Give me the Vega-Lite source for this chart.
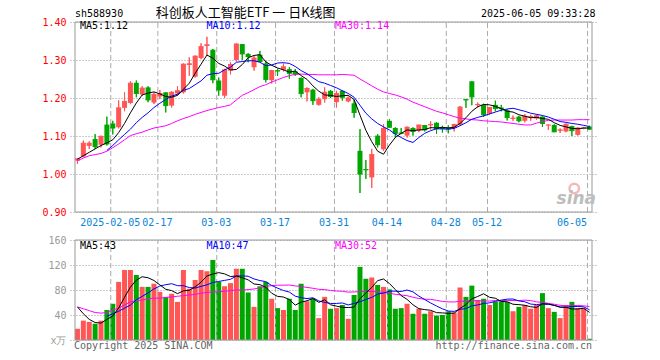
{
"$schema":"https://vega.github.io/schema/vega-lite/v6.json",
"width":527,"height":318,
"autosize":{"type":"none"},
"padding":{"left":70,"top":22,"right":63,"bottom":20},
"background":"white",
"config":{"view":{"stroke":null},"font":"DejaVu Sans Mono"},
"datasets":{
"k":[
{"i":0,"d":"01-20","o":1.035,"h":1.041,"l":1.027,"c":1.040,"v":18,"m5":1.039,"m10":null,"m30":1.035,"vm5":53,"vm10":null,"vm30":53},
{"i":1,"d":"01-21","o":1.046,"h":1.088,"l":1.044,"c":1.081,"v":31,"m5":1.048,"m10":null,"m30":1.042,"vm5":42,"vm10":null,"vm30":50},
{"i":2,"d":"01-22","o":1.074,"h":1.086,"l":1.066,"c":1.081,"v":29,"m5":1.057,"m10":null,"m30":1.048,"vm5":33,"vm10":null,"vm30":47},
{"i":3,"d":"01-23","o":1.092,"h":1.105,"l":1.066,"c":1.072,"v":26,"m5":1.066,"m10":null,"m30":1.051,"vm5":28,"vm10":null,"vm30":44},
{"i":4,"d":"01-24","o":1.077,"h":1.101,"l":1.070,"c":1.099,"v":31,"m5":1.075,"m10":null,"m30":1.054,"vm5":27,"vm10":null,"vm30":43},
{"i":5,"d":"01-27","o":1.130,"h":1.151,"l":1.075,"c":1.079,"v":48,"m5":1.082,"m10":1.062,"m30":1.060,"vm5":33,"vm10":38,"vm30":44},
{"i":6,"d":"02-05","o":1.133,"h":1.140,"l":1.104,"c":1.121,"v":58,"m5":1.090,"m10":1.075,"m30":1.069,"vm5":38.4,"vm10":42,"vm30":48},
{"i":7,"d":"02-06","o":1.123,"h":1.194,"l":1.120,"c":1.174,"v":93,"m5":1.109,"m10":1.090,"m30":1.079,"vm5":51.2,"vm10":46,"vm30":51},
{"i":8,"d":"02-07","o":1.174,"h":1.215,"l":1.165,"c":1.191,"v":112,"m5":1.133,"m10":1.104,"m30":1.090,"vm5":68.4,"vm10":51,"vm30":56},
{"i":9,"d":"02-10","o":1.187,"h":1.244,"l":1.184,"c":1.239,"v":112,"m5":1.161,"m10":1.118,"m30":1.101,"vm5":84.6,"vm10":55.8,"vm30":61},
{"i":10,"d":"02-11","o":1.240,"h":1.246,"l":1.202,"c":1.212,"v":104,"m5":1.187,"m10":1.135,"m30":1.106,"vm5":95.8,"vm10":64.4,"vm30":63},
{"i":11,"d":"02-12","o":1.209,"h":1.231,"l":1.206,"c":1.226,"v":85,"m5":1.208,"m10":1.149,"m30":1.110,"vm5":101.2,"vm10":69.8,"vm30":64},
{"i":12,"d":"02-13","o":1.228,"h":1.231,"l":1.189,"c":1.195,"v":85,"m5":1.213,"m10":1.161,"m30":1.116,"vm5":99.6,"vm10":75.4,"vm30":66},
{"i":13,"d":"02-14","o":1.188,"h":1.215,"l":1.184,"c":1.209,"v":90,"m5":1.216,"m10":1.175,"m30":1.121,"vm5":95.2,"vm10":81.8,"vm30":67},
{"i":14,"d":"02-17","o":1.204,"h":1.221,"l":1.197,"c":1.212,"v":77,"m5":1.211,"m10":1.186,"m30":1.124,"vm5":88.2,"vm10":86.4,"vm30":67},
{"i":15,"d":"02-18","o":1.215,"h":1.215,"l":1.162,"c":1.180,"v":69,"m5":1.204,"m10":1.196,"m30":1.127,"vm5":81.2,"vm10":88.5,"vm30":68},
{"i":16,"d":"02-19","o":1.180,"h":1.218,"l":1.175,"c":1.215,"v":74,"m5":1.202,"m10":1.205,"m30":1.133,"vm5":79,"vm10":90.1,"vm30":69},
{"i":17,"d":"02-20","o":1.212,"h":1.231,"l":1.206,"c":1.219,"v":61,"m5":1.207,"m10":1.210,"m30":1.140,"vm5":74.2,"vm10":86.9,"vm30":70},
{"i":18,"d":"02-21","o":1.215,"h":1.291,"l":1.212,"c":1.289,"v":112,"m5":1.223,"m10":1.220,"m30":1.146,"vm5":78.6,"vm10":86.9,"vm30":71},
{"i":19,"d":"02-24","o":1.287,"h":1.307,"l":1.258,"c":1.290,"v":82,"m5":1.239,"m10":1.225,"m30":1.151,"vm5":79.6,"vm10":83.9,"vm30":72},
{"i":20,"d":"02-25","o":1.256,"h":1.312,"l":1.254,"c":1.310,"v":96,"m5":1.265,"m10":1.235,"m30":1.157,"vm5":85,"vm10":83.1,"vm30":73},
{"i":21,"d":"02-26","o":1.305,"h":1.344,"l":1.302,"c":1.335,"v":112,"m5":1.289,"m10":1.245,"m30":1.162,"vm5":92.6,"vm10":85.8,"vm30":75},
{"i":22,"d":"02-27","o":1.337,"h":1.361,"l":1.311,"c":1.340,"v":110,"m5":1.313,"m10":1.260,"m30":1.167,"vm5":102.4,"vm10":88.3,"vm30":76},
{"i":23,"d":"02-28","o":1.327,"h":1.329,"l":1.239,"c":1.248,"v":128,"m5":1.305,"m10":1.264,"m30":1.171,"vm5":105.6,"vm10":92.1,"vm30":77},
{"i":24,"d":"03-03","o":1.246,"h":1.254,"l":1.206,"c":1.221,"v":93,"m5":1.291,"m10":1.265,"m30":1.175,"vm5":107.8,"vm10":93.7,"vm30":77},
{"i":25,"d":"03-04","o":1.206,"h":1.277,"l":1.200,"c":1.274,"v":86,"m5":1.284,"m10":1.274,"m30":1.178,"vm5":105.8,"vm10":95.4,"vm30":78},
{"i":26,"d":"03-05","o":1.272,"h":1.294,"l":1.262,"c":1.288,"v":91,"m5":1.274,"m10":1.281,"m30":1.182,"vm5":101.6,"vm10":97.1,"vm30":79},
{"i":27,"d":"03-06","o":1.300,"h":1.344,"l":1.296,"c":1.342,"v":114,"m5":1.275,"m10":1.294,"m30":1.195,"vm5":102.4,"vm10":102.4,"vm30":80},
{"i":28,"d":"03-07","o":1.342,"h":1.342,"l":1.300,"c":1.316,"v":114,"m5":1.288,"m10":1.296,"m30":1.207,"vm5":99.6,"vm10":102.6,"vm30":80},
{"i":29,"d":"03-10","o":1.316,"h":1.318,"l":1.294,"c":1.309,"v":76,"m5":1.306,"m10":1.298,"m30":1.214,"vm5":96.2,"vm10":102,"vm30":80.6},
{"i":30,"d":"03-11","o":1.281,"h":1.311,"l":1.272,"c":1.305,"v":53,"m5":1.312,"m10":1.298,"m30":1.222,"vm5":89.6,"vm10":97.7,"vm30":81.7},
{"i":31,"d":"03-12","o":1.314,"h":1.324,"l":1.294,"c":1.296,"v":86,"m5":1.314,"m10":1.294,"m30":1.230,"vm5":88.6,"vm10":95.1,"vm30":83.6},
{"i":32,"d":"03-13","o":1.291,"h":1.298,"l":1.241,"c":1.249,"v":93,"m5":1.295,"m10":1.285,"m30":1.235,"vm5":84.4,"vm10":93.4,"vm30":85.7},
{"i":33,"d":"03-14","o":1.247,"h":1.274,"l":1.238,"c":1.272,"v":66,"m5":1.286,"m10":1.287,"m30":1.242,"vm5":74.8,"vm10":87.2,"vm30":87},
{"i":34,"d":"03-17","o":1.273,"h":1.277,"l":1.258,"c":1.271,"v":51,"m5":1.279,"m10":1.292,"m30":1.248,"vm5":69.8,"vm10":83,"vm30":87.7},
{"i":35,"d":"03-18","o":1.274,"h":1.291,"l":1.270,"c":1.282,"v":48,"m5":1.274,"m10":1.293,"m30":1.254,"vm5":68.8,"vm10":79.2,"vm30":87.7},
{"i":36,"d":"03-19","o":1.276,"h":1.281,"l":1.251,"c":1.265,"v":66,"m5":1.268,"m10":1.291,"m30":1.259,"vm5":64.8,"vm10":76.7,"vm30":88},
{"i":37,"d":"03-20","o":1.270,"h":1.276,"l":1.258,"c":1.263,"v":48,"m5":1.271,"m10":1.283,"m30":1.262,"vm5":55.8,"vm10":70.1,"vm30":86.5},
{"i":38,"d":"03-21","o":1.253,"h":1.254,"l":1.202,"c":1.212,"v":90,"m5":1.259,"m10":1.272,"m30":1.263,"vm5":60.6,"vm10":67.7,"vm30":85.7},
{"i":39,"d":"03-24","o":1.215,"h":1.228,"l":1.191,"c":1.225,"v":62,"m5":1.249,"m10":1.264,"m30":1.262,"vm5":62.8,"vm10":66.3,"vm30":84.1},
{"i":40,"d":"03-25","o":1.222,"h":1.224,"l":1.182,"c":1.193,"v":66,"m5":1.232,"m10":1.253,"m30":1.262,"vm5":66.4,"vm10":67.6,"vm30":82.8},
{"i":41,"d":"03-26","o":1.182,"h":1.202,"l":1.180,"c":1.196,"v":35,"m5":1.218,"m10":1.243,"m30":1.261,"vm5":60.2,"vm10":62.5,"vm30":81.1},
{"i":42,"d":"03-27","o":1.197,"h":1.228,"l":1.188,"c":1.215,"v":69,"m5":1.208,"m10":1.239,"m30":1.261,"vm5":64.4,"vm10":60.1,"vm30":80.6},
{"i":43,"d":"03-28","o":1.219,"h":1.221,"l":1.200,"c":1.204,"v":50,"m5":1.207,"m10":1.233,"m30":1.261,"vm5":56.4,"vm10":58.5,"vm30":79.3},
{"i":44,"d":"03-31","o":1.189,"h":1.219,"l":1.175,"c":1.212,"v":51,"m5":1.204,"m10":1.227,"m30":1.261,"vm5":54.2,"vm10":58.5,"vm30":78.4},
{"i":45,"d":"04-01","o":1.219,"h":1.221,"l":1.193,"c":1.202,"v":56,"m5":1.206,"m10":1.219,"m30":1.262,"vm5":52.2,"vm10":59.3,"vm30":78},
{"i":46,"d":"04-02","o":1.191,"h":1.204,"l":1.189,"c":1.200,"v":34,"m5":1.207,"m10":1.212,"m30":1.261,"vm5":52,"vm10":56.1,"vm30":76.6},
{"i":47,"d":"04-03","o":1.186,"h":1.196,"l":1.148,"c":1.162,"v":72,"m5":1.196,"m10":1.202,"m30":1.260,"vm5":52.6,"vm10":58.5,"vm30":77},
{"i":48,"d":"04-07","o":1.061,"h":1.118,"l":0.950,"c":1.000,"v":117,"m5":1.155,"m10":1.181,"m30":1.250,"vm5":66,"vm10":61.2,"vm30":77.2},
{"i":49,"d":"04-08","o":1.013,"h":1.037,"l":0.987,"c":1.011,"v":98,"m5":1.115,"m10":1.160,"m30":1.241,"vm5":75.4,"vm10":64.8,"vm30":77.7},
{"i":50,"d":"04-09","o":0.991,"h":1.066,"l":0.963,"c":1.051,"v":100,"m5":1.085,"m10":1.145,"m30":1.232,"vm5":84.2,"vm10":68.2,"vm30":77.8},
{"i":51,"d":"04-10","o":1.101,"h":1.105,"l":1.070,"c":1.077,"v":88,"m5":1.060,"m10":1.133,"m30":1.223,"vm5":95,"vm10":73.5,"vm30":77},
{"i":52,"d":"04-11","o":1.065,"h":1.131,"l":1.061,"c":1.120,"v":85,"m5":1.052,"m10":1.124,"m30":1.216,"vm5":97.6,"vm10":75.1,"vm30":76.2},
{"i":53,"d":"04-14","o":1.140,"h":1.144,"l":1.121,"c":1.123,"v":81,"m5":1.076,"m10":1.116,"m30":1.212,"vm5":90.4,"vm10":78.2,"vm30":74.6},
{"i":54,"d":"04-15","o":1.121,"h":1.123,"l":1.096,"c":1.107,"v":50,"m5":1.096,"m10":1.105,"m30":1.208,"vm5":80.8,"vm10":78.1,"vm30":73.2},
{"i":55,"d":"04-16","o":1.109,"h":1.121,"l":1.105,"c":1.107,"v":51,"m5":1.107,"m10":1.096,"m30":1.203,"vm5":71,"vm10":77.6,"vm30":72},
{"i":56,"d":"04-17","o":1.101,"h":1.125,"l":1.096,"c":1.123,"v":58,"m5":1.116,"m10":1.088,"m30":1.197,"vm5":65,"vm10":80,"vm30":70.9},
{"i":57,"d":"04-18","o":1.121,"h":1.123,"l":1.101,"c":1.112,"v":42,"m5":1.114,"m10":1.083,"m30":1.189,"vm5":56.4,"vm10":77,"vm30":68.5},
{"i":58,"d":"04-21","o":1.114,"h":1.129,"l":1.110,"c":1.129,"v":50,"m5":1.116,"m10":1.096,"m30":1.183,"vm5":50.2,"vm10":70.3,"vm30":66.4},
{"i":59,"d":"04-22","o":1.129,"h":1.129,"l":1.112,"c":1.116,"v":42,"m5":1.117,"m10":1.107,"m30":1.177,"vm5":48.6,"vm10":64.7,"vm30":65.3},
{"i":60,"d":"04-23","o":1.128,"h":1.139,"l":1.117,"c":1.130,"v":46,"m5":1.122,"m10":1.114,"m30":1.171,"vm5":47.6,"vm10":59.3,"vm30":65},
{"i":61,"d":"04-24","o":1.135,"h":1.136,"l":1.106,"c":1.119,"v":39,"m5":1.121,"m10":1.119,"m30":1.165,"vm5":43.8,"vm10":54.4,"vm30":63.5},
{"i":62,"d":"04-25","o":1.123,"h":1.127,"l":1.109,"c":1.119,"v":40,"m5":1.123,"m10":1.119,"m30":1.161,"vm5":43.4,"vm10":49.9,"vm30":61.7},
{"i":63,"d":"04-28","o":1.123,"h":1.128,"l":1.107,"c":1.119,"v":46,"m5":1.121,"m10":1.118,"m30":1.156,"vm5":42.6,"vm10":46.4,"vm30":61},
{"i":64,"d":"04-29","o":1.121,"h":1.132,"l":1.112,"c":1.130,"v":44,"m5":1.123,"m10":1.120,"m30":1.151,"vm5":43,"vm10":45.8,"vm30":60.8},
{"i":65,"d":"04-30","o":1.130,"h":1.179,"l":1.128,"c":1.176,"v":84,"m5":1.133,"m10":1.127,"m30":1.147,"vm5":50.6,"vm10":49.1,"vm30":62},
{"i":66,"d":"05-06","o":1.197,"h":1.197,"l":1.174,"c":1.195,"v":69,"m5":1.148,"m10":1.135,"m30":1.145,"vm5":56.6,"vm10":50.2,"vm30":62.1},
{"i":67,"d":"05-07","o":1.244,"h":1.244,"l":1.181,"c":1.203,"v":87,"m5":1.165,"m10":1.144,"m30":1.143,"vm5":66,"vm10":54.7,"vm30":63.4},
{"i":68,"d":"05-08","o":1.181,"h":1.188,"l":1.175,"c":1.183,"v":64,"m5":1.177,"m10":1.149,"m30":1.142,"vm5":69.6,"vm10":56.1,"vm30":62.5},
{"i":69,"d":"05-09","o":1.182,"h":1.185,"l":1.150,"c":1.156,"v":66,"m5":1.183,"m10":1.153,"m30":1.140,"vm5":74,"vm10":58.5,"vm30":62.7},
{"i":70,"d":"05-12","o":1.159,"h":1.176,"l":1.156,"c":1.175,"v":56,"m5":1.182,"m10":1.158,"m30":1.139,"vm5":68.4,"vm10":59.5,"vm30":62.3},
{"i":71,"d":"05-13","o":1.182,"h":1.193,"l":1.165,"c":1.172,"v":61,"m5":1.178,"m10":1.163,"m30":1.138,"vm5":66.8,"vm10":61.7,"vm30":63.2},
{"i":72,"d":"05-14","o":1.175,"h":1.182,"l":1.165,"c":1.172,"v":62,"m5":1.172,"m10":1.168,"m30":1.137,"vm5":61.8,"vm10":63.9,"vm30":63},
{"i":73,"d":"05-15","o":1.168,"h":1.170,"l":1.141,"c":1.149,"v":61,"m5":1.165,"m10":1.171,"m30":1.135,"vm5":61.2,"vm10":65.4,"vm30":63.3},
{"i":74,"d":"05-16","o":1.145,"h":1.154,"l":1.140,"c":1.147,"v":46,"m5":1.163,"m10":1.173,"m30":1.133,"vm5":57.2,"vm10":65.6,"vm30":63.2},
{"i":75,"d":"05-19","o":1.151,"h":1.153,"l":1.136,"c":1.140,"v":53,"m5":1.156,"m10":1.169,"m30":1.131,"vm5":56.6,"vm10":62.5,"vm30":63.1},
{"i":76,"d":"05-20","o":1.140,"h":1.158,"l":1.136,"c":1.152,"v":56,"m5":1.152,"m10":1.165,"m30":1.129,"vm5":55.6,"vm10":61.2,"vm30":63.8},
{"i":77,"d":"05-21","o":1.150,"h":1.156,"l":1.140,"c":1.151,"v":50,"m5":1.148,"m10":1.160,"m30":1.129,"vm5":53.2,"vm10":57.5,"vm30":63.1},
{"i":78,"d":"05-22","o":1.146,"h":1.157,"l":1.143,"c":1.153,"v":56,"m5":1.149,"m10":1.157,"m30":1.134,"vm5":52.2,"vm10":56.7,"vm30":61},
{"i":79,"d":"05-23","o":1.151,"h":1.153,"l":1.124,"c":1.133,"v":75,"m5":1.146,"m10":1.154,"m30":1.138,"vm5":58,"vm10":57.6,"vm30":60.3},
{"i":80,"d":"05-26","o":1.128,"h":1.130,"l":1.116,"c":1.129,"v":51,"m5":1.144,"m10":1.150,"m30":1.141,"vm5":57.6,"vm10":57.1,"vm30":58.6},
{"i":81,"d":"05-27","o":1.129,"h":1.131,"l":1.110,"c":1.111,"v":45,"m5":1.135,"m10":1.144,"m30":1.142,"vm5":55.4,"vm10":55.5,"vm30":57.2},
{"i":82,"d":"05-28","o":1.114,"h":1.120,"l":1.108,"c":1.116,"v":35,"m5":1.128,"m10":1.138,"m30":1.142,"vm5":52.4,"vm10":52.8,"vm30":55.5},
{"i":83,"d":"05-29","o":1.112,"h":1.133,"l":1.110,"c":1.131,"v":56,"m5":1.124,"m10":1.136,"m30":1.142,"vm5":52.4,"vm10":52.3,"vm30":54.7},
{"i":84,"d":"05-30","o":1.126,"h":1.127,"l":1.100,"c":1.114,"v":61,"m5":1.120,"m10":1.133,"m30":1.142,"vm5":49.6,"vm10":53.8,"vm30":55.1},
{"i":85,"d":"06-03","o":1.103,"h":1.123,"l":1.101,"c":1.121,"v":51,"m5":1.119,"m10":1.131,"m30":1.143,"vm5":49.6,"vm10":53.6,"vm30":55.1},
{"i":86,"d":"06-04","o":1.120,"h":1.124,"l":1.118,"c":1.121,"v":51,"m5":1.121,"m10":1.128,"m30":1.143,"vm5":50.8,"vm10":53.1,"vm30":54.8},
{"i":87,"d":"06-05","o":1.125,"h":1.127,"l":1.116,"c":1.118,"v":2,"m5":1.121,"m10":1.125,"m30":1.143,"vm5":44.2,"vm10":48.3,"vm30":53.5}
],
"t":[{"i":6,"d":"2025-02-05"},{"i":14,"d":"02-17"},{"i":24,"d":"03-03"},{"i":34,"d":"03-17"},{"i":44,"d":"03-31"},{"i":53,"d":"04-14"},{"i":63,"d":"04-28"},{"i":70,"d":"05-12"},{"i":87,"d":"06-05"}]
},
"layer":[
{"layer":[
{"data":{"name":"k"},"mark":{"type":"rule","strokeWidth":1},
 "encoding":{
  "x":{"field":"i","type":"quantitative","scale":{"domain":[-0.416667,87.416667],"nice":false,"zero":false},
   "axis":{"values":[6,14,24,34,44,53,63,70,87],"labelExpr":"{'6':'2025-02-05','14':'02-17','24':'03-03','34':'03-17','44':'03-31','53':'04-14','63':'04-28','70':'05-12','87':'06-05'}[datum.value]","title":null,"grid":false,"domain":false,"ticks":false,"tickSize":0,"labelColor":"#0a84d8","labelFont":"DejaVu Sans Mono","labelFontSize":10,"labelPadding":5,"offset":-128,"labelFlush":false,"labelOverlap":false,"labelOffset":-3,"labelAlign":{"condition":{"test":"datum.value == 87","value":"right"},"value":"center"}}},
  "y":{"field":"l","type":"quantitative","scale":{"domain":[0.9,1.4],"range":[190,0],"nice":false,"zero":false},
   "axis":{"orient":"left","values":[0.9,1.0,1.1,1.2,1.3,1.4],"format":".2f","title":null,"domain":false,"ticks":false,"labelColor":"#ff0000","labelFont":"DejaVu Sans Mono","labelFontSize":10,"labelPadding":4,"grid":true,"gridColor":"#999999","gridDash":[1,2]}},
  "y2":{"field":"h"},
  "color":{"condition":{"test":"datum.c >= datum.o","value":"#ff5555"},"value":"#00a600"}}},
{"data":{"name":"t"},"mark":{"type":"rule","stroke":"#aaaaaa","strokeDash":[5,3],"xOffset":-2},
 "encoding":{"x":{"field":"i","type":"quantitative"},"y":{"datum":0.9},"y2":{"datum":1.4}}},
{"data":{"name":"k"},"mark":{"type":"rule","strokeWidth":1},
 "encoding":{"x":{"field":"i","type":"quantitative"},"y":{"field":"l","type":"quantitative"},"y2":{"field":"h"},
  "color":{"condition":{"test":"datum.c >= datum.o","value":"#ff5555"},"value":"#00a600"}}},
{"data":{"name":"k"},"mark":{"type":"bar","width":5},
 "encoding":{"x":{"field":"i","type":"quantitative"},"y":{"field":"o","type":"quantitative"},"y2":{"field":"c"},
  "color":{"condition":{"test":"datum.c >= datum.o","value":"#ff5555"},"value":"#00a600"}}},
{"data":{"name":"k"},"mark":{"type":"rule","strokeWidth":1,"xOffset":-2.5,"x2Offset":2.5},
 "encoding":{"x":{"field":"i","type":"quantitative"},"x2":{"field":"i"},"y":{"field":"c","type":"quantitative"},
  "color":{"condition":{"test":"datum.c >= datum.o","value":"#ff5555"},"value":"#00a600"}}},
{"data":{"name":"k"},"mark":{"type":"line","stroke":"#ff00ff","strokeWidth":1},
 "encoding":{"x":{"field":"i","type":"quantitative"},"y":{"field":"m30","type":"quantitative"}}},
{"data":{"name":"k"},"mark":{"type":"line","stroke":"#0000ff","strokeWidth":1},
 "encoding":{"x":{"field":"i","type":"quantitative"},"y":{"field":"m10","type":"quantitative"}}},
{"data":{"name":"k"},"mark":{"type":"line","stroke":"#000000","strokeWidth":1},
 "encoding":{"x":{"field":"i","type":"quantitative"},"y":{"field":"m5","type":"quantitative"}}},
{"data":{"values":[{}]},"mark":{"type":"rect","fill":"white","fillOpacity":0,"stroke":"#999999","strokeWidth":1},
 "encoding":{"x":{"datum":-0.416667},"x2":{"datum":87.416667},"y":{"datum":0.9},"y2":{"datum":1.4}}},
{"data":{"values":[{}]},"mark":{"type":"point","shape":"circle","filled":false,"stroke":"#f2b3b3","strokeWidth":2.5,"size":90,"opacity":0.9},
 "encoding":{"x":{"datum":84.4},"y":{"datum":0.962}}},
{"data":{"values":[{}]},"mark":{"type":"text","text":"sina","align":"center","baseline":"middle","font":"DejaVu Sans","fontSize":17,"fontStyle":"italic","fontWeight":"bold","color":"#bdbdbd"},
 "encoding":{"x":{"datum":84.75},"y":{"datum":0.934}}},
{"data":{"values":[{}]},"mark":{"type":"text","text":"MA5:1.12","align":"left","baseline":"middle","font":"DejaVu Sans Mono","fontSize":10,"color":"#000000"},
 "encoding":{"x":{"datum":0.4167},"y":{"datum":1.3887}}},
{"data":{"values":[{}]},"mark":{"type":"text","text":"MA10:1.12","align":"left","baseline":"middle","font":"DejaVu Sans Mono","fontSize":10,"color":"#0000ff"},
 "encoding":{"x":{"datum":21.917},"y":{"datum":1.3887}}},
{"data":{"values":[{}]},"mark":{"type":"text","text":"MA30:1.14","align":"left","baseline":"middle","font":"DejaVu Sans Mono","fontSize":10,"color":"#ff00ff"},
 "encoding":{"x":{"datum":43.75},"y":{"datum":1.3887}}},
{"data":{"values":[{}]},"mark":{"type":"text","text":"sh588930","align":"left","baseline":"middle","font":"DejaVu Sans Mono","fontSize":10,"color":"#000000"},
 "encoding":{"x":{"datum":-0.4167},"y":{"datum":1.4215}}},
{"data":{"values":[{}]},"mark":{"type":"text","text":"科创板人工智能ETF 一 日K线图","align":"center","baseline":"middle","font":"Noto Sans CJK SC","fontSize":13,"color":"#000000"},
 "encoding":{"x":{"datum":28.58},"y":{"datum":1.4225}}},
{"data":{"values":[{}]},"mark":{"type":"text","text":"2025-06-05 09:33:28","align":"right","baseline":"middle","font":"DejaVu Sans Mono","fontSize":10,"color":"#000000"},
 "encoding":{"x":{"datum":88.0},"y":{"datum":1.4215}}}
]},
{"layer":[
{"data":{"name":"k"},"mark":{"type":"bar","width":5},
 "encoding":{"x":{"field":"i","type":"quantitative"},
  "y":{"field":"v","type":"quantitative","scale":{"domain":[0,160],"range":[318,218],"nice":false},
   "axis":{"orient":"left","values":[0,40,80,120,160],"title":null,"domain":false,"ticks":false,"labelColor":"#999999","labelFont":"DejaVu Sans Mono","labelFontSize":10,"labelPadding":4,"grid":true,"gridColor":"#999999","gridDash":[1,2],"labelExpr":"datum.value == 0 ? 'x万' : datum.label"}},
  "color":{"condition":{"test":"datum.c >= datum.o","value":"#ff5555"},"value":"#00a600"}}},
{"data":{"name":"t"},"mark":{"type":"rule","stroke":"#aaaaaa","strokeDash":[5,3],"xOffset":-2},
 "encoding":{"x":{"field":"i","type":"quantitative"},"y":{"datum":0},"y2":{"datum":160}}},
{"data":{"name":"k"},"mark":{"type":"line","stroke":"#ff00ff","strokeWidth":1},
 "encoding":{"x":{"field":"i","type":"quantitative"},"y":{"field":"vm30","type":"quantitative"}}},
{"data":{"name":"k"},"mark":{"type":"line","stroke":"#0000ff","strokeWidth":1},
 "encoding":{"x":{"field":"i","type":"quantitative"},"y":{"field":"vm10","type":"quantitative"}}},
{"data":{"name":"k"},"mark":{"type":"line","stroke":"#000000","strokeWidth":1},
 "encoding":{"x":{"field":"i","type":"quantitative"},"y":{"field":"vm5","type":"quantitative"}}},
{"data":{"values":[{}]},"mark":{"type":"rect","fill":"white","fillOpacity":0,"stroke":"#999999","strokeWidth":1},
 "encoding":{"x":{"datum":-0.416667},"x2":{"datum":87.416667},"y":{"datum":0},"y2":{"datum":160}}},
{"data":{"values":[{}]},"mark":{"type":"text","text":"MA5:43","align":"left","baseline":"middle","font":"DejaVu Sans Mono","fontSize":10,"color":"#000000"},
 "encoding":{"x":{"datum":0.4167},"y":{"datum":150.7}}},
{"data":{"values":[{}]},"mark":{"type":"text","text":"MA10:47","align":"left","baseline":"middle","font":"DejaVu Sans Mono","fontSize":10,"color":"#0000ff"},
 "encoding":{"x":{"datum":21.917},"y":{"datum":150.7}}},
{"data":{"values":[{}]},"mark":{"type":"text","text":"MA30:52","align":"left","baseline":"middle","font":"DejaVu Sans Mono","fontSize":10,"color":"#ff00ff"},
 "encoding":{"x":{"datum":43.75},"y":{"datum":150.7}}},
{"data":{"values":[{}]},"mark":{"type":"text","text":"Copyright 2025 SINA.COM","align":"left","baseline":"middle","font":"DejaVu Sans Mono","fontSize":10,"color":"#666666"},
 "encoding":{"x":{"datum":-0.5833},"y":{"datum":-9.6}}},
{"data":{"values":[{}]},"mark":{"type":"text","text":"http://finance.sina.com.cn","align":"right","baseline":"middle","font":"DejaVu Sans Mono","fontSize":10,"color":"#666666"},
 "encoding":{"x":{"datum":87.4167},"y":{"datum":-9.6}}}
]}
],
"resolve":{"scale":{"y":"independent"},"axis":{"y":"independent"}}
}
